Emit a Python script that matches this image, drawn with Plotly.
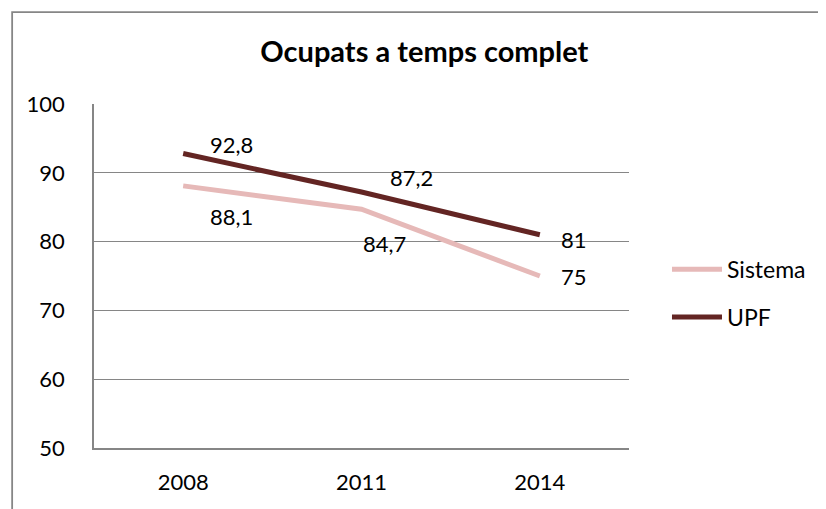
import plotly.graph_objects as go

YEARS = ["2008", "2011", "2014"]
SISTEMA = [88.1, 84.7, 75]
UPF = [92.8, 87.2, 81]

GRID = "#868686"
FONT = dict(family="Lato, 'Open Sans', sans-serif", color="#000000", size=22)

# the page body adds an 8px margin, so the figure is drawn 8px smaller
W, H = 818, 501


def label(v):
    return f"{v:g}".replace(".", ",")


fig = go.Figure()
fig.add_trace(go.Scatter(
    x=YEARS, y=SISTEMA, name="Sistema", mode="lines",
    line=dict(color="#E6B9B8", width=5), legendgroup="a",
))
fig.add_trace(go.Scatter(
    x=YEARS, y=UPF, name="UPF", mode="lines",
    line=dict(color="#632523", width=5), legendgroup="b",
))

# data labels, offset like the Excel original
upf_shift = [(48, 9), (50, 15), (34, -5)]
sis_shift = [(48, -31), (23, -34), (34, 0)]
for vals, shifts in [(UPF, upf_shift), (SISTEMA, sis_shift)]:
    for i, (v, (dx, dy)) in enumerate(zip(vals, shifts)):
        fig.add_annotation(x=i, y=v, xref="x", yref="y", text=label(v),
                           showarrow=False, xshift=dx, yshift=dy,
                           font=dict(size=22, color="#000000"))

fig.add_shape(type="rect", xref="paper", yref="paper",
              x0=-0.153, x1=1.6, y0=-0.4, y1=1.267,
              line=dict(color=GRID, width=1.8), layer="below")

fig.update_layout(
    width=W, height=H,
    paper_bgcolor="white", plot_bgcolor="white",
    font=FONT,
    title=dict(text="<b>Ocupats a temps complet</b>", x=0.509, xanchor="center",
               y=0.912, yanchor="middle", font=dict(size=29)),
    margin=dict(l=86, r=197, t=96, b=61),
    xaxis=dict(type="category", range=[-0.5, 2.5], showgrid=False,
               showline=True, linecolor=GRID, linewidth=1.5,
               ticks="", ticklabelstandoff=14, fixedrange=True),
    yaxis=dict(range=[50, 100], dtick=10, showgrid=True, gridcolor=GRID,
               gridwidth=1.2, showline=True, linecolor=GRID, linewidth=1.5,
               zeroline=False, ticks="", ticklabelstandoff=23),
    legend=dict(x=1.071, y=0.45, xanchor="left", yanchor="middle",
                font=dict(size=23), tracegroupgap=15, itemwidth=50,
                bgcolor="rgba(0,0,0,0)"),
    showlegend=True,
)

fig.write_html("out.html")
